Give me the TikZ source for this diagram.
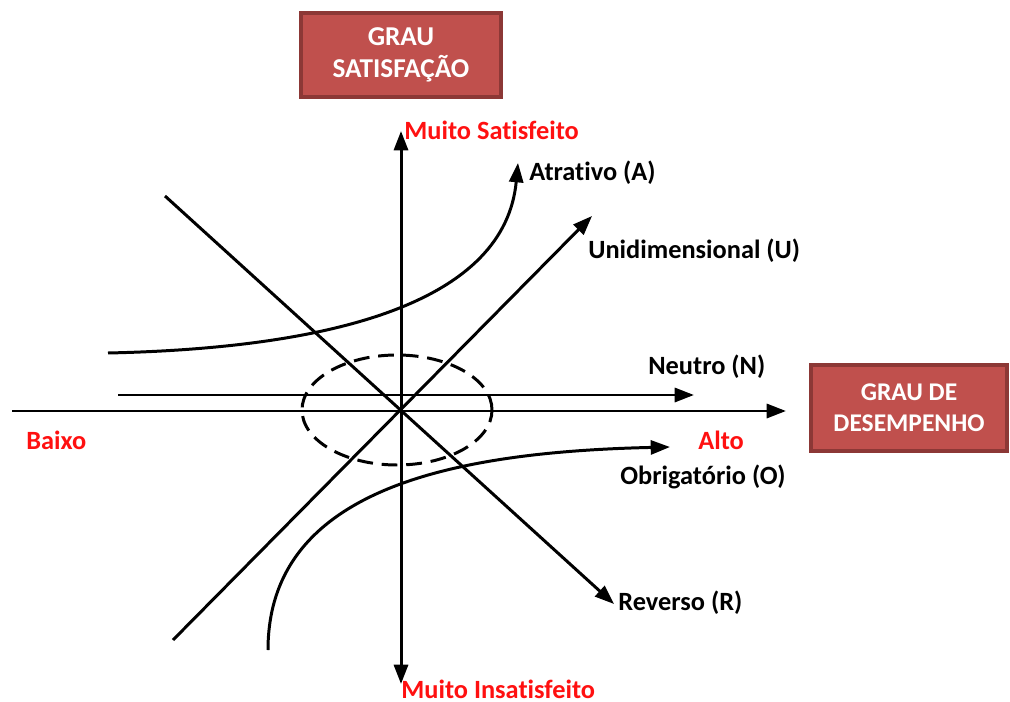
\documentclass[tikz,border=0pt]{standalone}
\usepackage{fontspec}
\setmainfont[RawFeature={-liga}]{Carlito}
\usetikzlibrary{arrows.meta,shapes.geometric}
\definecolor{boxfill}{HTML}{C0504D}
\definecolor{boxline}{HTML}{8C3836}
\definecolor{lblred}{HTML}{FF1010}
\begin{document}
\begin{tikzpicture}[x=0.02cm,y=-0.02cm,
  lbl/.style={font=\fontsize{15}{18}\selectfont\bfseries, inner sep=0pt},
  redlbl/.style={lbl, text=lblred},
  blklbl/.style={lbl, text=black},
  titlebox/.style={draw=boxline, line width=2pt, fill=boxfill, text=white, align=center, inner sep=0pt},
  axis/.style={line width=1.7pt, -{Triangle[length=11pt,width=8pt]}},
  conn/.style={line width=1.7pt, -{Triangle[length=11pt,width=8pt]}}]
\useasboundingbox (0,0) rectangle (1010,702);
% title boxes
\node[titlebox, font=\fontsize{15.5}{18}\selectfont\bfseries, minimum width=200*0.02cm, minimum height=84*0.02cm] (sat) at (401,55) {GRAU\\SATISFAÇÃO};
\node[titlebox, font=\fontsize{14.5}{17.5}\selectfont\bfseries, minimum width=196*0.02cm, minimum height=86*0.02cm] (des) at (909,408) {GRAU DE\\DESEMPENHO};
% axes
\coordinate (O) at (401,411);
\coordinate (xL) at (12,411);
\coordinate (xR) at (786,411);
\coordinate (yT) at (401,131);
\coordinate (yB) at (401,684);
\draw[axis] (xL) -- (xR);
\draw[axis] (O) -- (yT);
\draw[axis] (O) -- (yB);
% axis labels
\node[redlbl, anchor=west] (ms) at (404,130) {Muito Satisfeito};
\node[redlbl, anchor=base west] (mi) at (401,698) {Muito Insatisfeito};
\node[redlbl, anchor=west] (alto) at (698,440) {Alto};
\node[redlbl, anchor=west] (baixo) at (26,440) {Baixo};
% Atrativo
\coordinate (a0) at (108,353);
\coordinate (a1) at (518,163);
\draw[conn] (a0) .. controls (340,348) and (505,300) .. (a1);
\node[blklbl, anchor=west] (atr) at (529,173) {Atrativo (A)};
% Unidimensional
\coordinate (u0) at (173,640);
\coordinate (u1) at (592,216);
\draw[conn] (u0) -- (u1);
\node[blklbl, anchor=west] (uni) at (588,251) {Unidimensional (U)};
% Reverso
\coordinate (r0) at (165,196);
\coordinate (r1) at (614,604);
\draw[conn] (r0) -- (r1);
\node[blklbl, anchor=west] (rev) at (618,603) {Reverso (R)};
% Neutro
\coordinate (n0) at (118,395);
\coordinate (n1) at (694,395);
\draw[conn] (n0) -- (n1);
\node[blklbl, anchor=west] (neu) at (648,367) {Neutro (N)};
% Obrigatorio
\coordinate (o0) at (268,650);
\coordinate (o1) at (670,447);
\draw[conn] (o0) .. controls (268,490) and (450,452) .. (o1);
\node[blklbl, anchor=west] (obr) at (620,477) {Obrigatório (O)};
% dashed ellipse
\node[draw, dashed, line width=1.7pt, dash pattern=on 9pt off 5pt, ellipse, minimum width=190*0.02cm, minimum height=110*0.02cm, inner sep=0pt] (ell) at (397,410) {};
\end{tikzpicture}
\end{document}
